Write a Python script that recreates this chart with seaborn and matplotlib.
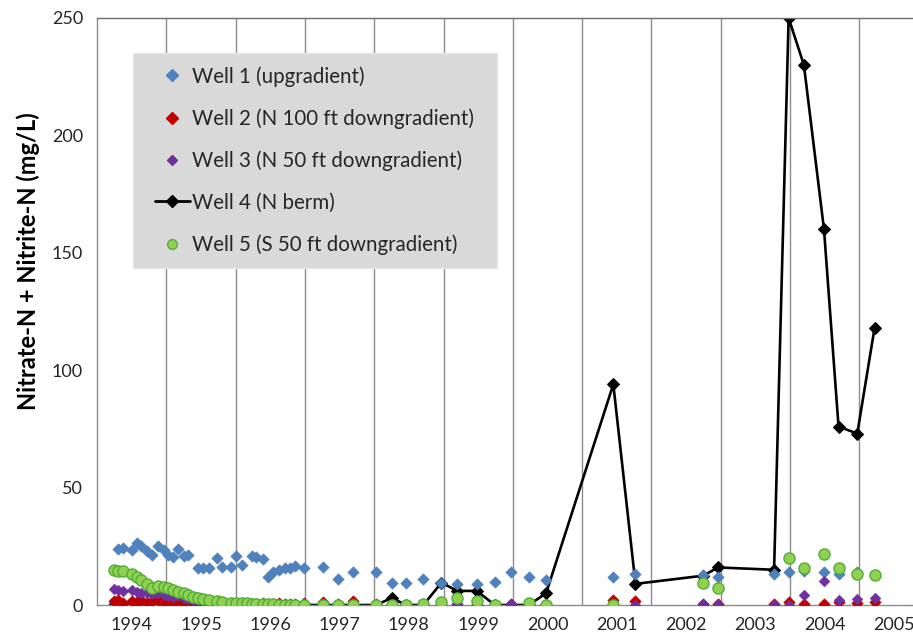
import numpy as np
import matplotlib
matplotlib.use("Agg")
import matplotlib.pyplot as plt
from matplotlib.lines import Line2D
from matplotlib.patches import Rectangle
import seaborn as sns

# Sampling dates (decimal years)
sample_dates = [
    1994.24, 1994.31, 1994.38, 1994.50, 1994.57, 1994.64, 1994.72, 1994.79, 1994.88, 1994.96,
    1995.03, 1995.10, 1995.17, 1995.25, 1995.32, 1995.39, 1995.46, 1995.53, 1995.61, 1995.73,
    1995.80, 1995.94, 1996.01, 1996.09, 1996.16, 1996.23, 1996.30, 1996.39, 1996.47, 1996.54,
    1996.62, 1996.71, 1996.78, 1996.86, 1996.98, 1997.26, 1997.48, 1997.70, 1998.03,
    1998.25, 1998.46, 1998.71, 1998.97, 1999.20, 1999.48, 1999.74, 1999.97, 2000.23, 2000.48,
    2001.45, 2001.77, 2002.75, 2002.96, 2003.77, 2003.98, 2004.20, 2004.49, 2004.70, 2004.97, 2005.22,
]

nan = np.nan

# Nitrate-N + Nitrite-N (mg/L) per well
well1 = [
    nan, 23.9, 24.4, 23.4, 26.5, 25.0, 23.0, 21.5, 25.0, 23.5,
    21.5, 20.6, 24.0, 21.0, 21.5, nan, 15.6, 15.6, 15.8, 19.9,
    16.3, 16.3, 21.0, 17.0, nan, 21.0, 20.6, 19.6, 12.1, 14.2,
    14.9, 15.6, 15.6, 16.7, 15.6, 16.3, 11.1, 13.9, 13.9,
    9.2, 9.2, 11.0, 9.5, 8.8, 9.0, 10.0, 14.0, 12.0, 10.8,
    12.0, 13.1, 12.8, 12.1, 13.0, 13.9, 14.5, 14.2, 13.1, 14.0, nan,
]
well2 = [
    1.5, 2.0, 1.0, 1.8, 1.2, 2.2, 1.0, 1.5, 2.0, 0.8,
    1.5, 1.2, 1.8, 0.8, 1.0, 1.5, 0.6, 1.2, 0.5, 0.8,
    0.5, 0.6, 0.5, 0.8, 0.5, 0.5, 0.6, 1.0, 0.5, 0.5,
    0.8, 0.5, 0.5, 0.5, 1.0, 1.2, 0.5, 1.8, 0.5,
    0.3, 0.2, 0.3, 0.2, 0.3, 0.2, 0.2, 0.3, 0.2, 0.3,
    2.0, 1.5, 0.5, 0.5, 0.3, 1.2, 0.4, 0.3, 1.1, 0.7, 1.2,
]
well3 = [
    7.0, 6.5, 5.8, 6.2, 5.5, 5.0, 5.3, 4.5, 5.0, 4.2,
    4.0, 3.5, 3.8, 3.0, 2.5, 2.2, 1.8, 1.5, 1.2, 1.0,
    0.8, 0.6, 0.5, 0.5, 0.4, 0.4, 0.3, 0.3, 0.3, 0.2,
    0.2, 0.2, 0.2, 0.2, 0.2, 0.2, 0.2, 0.2, 0.2,
    0.2, 0.1, 0.2, 0.1, 0.5, 0.2, 0.1, 0.3, 0.1, 0.1,
    0.1, 0.1, 0.3, 0.5, 0.1, 0.2, 4.3, 10.2, 2.1, 2.5, 2.8,
]
well4 = [
    0.0, 0.0, 0.0, 0.0, 0.0, 0.0, 0.0, 0.0, 0.0, 0.0,
    0.0, 0.0, 0.0, 0.0, 0.0, 0.0, 0.0, 0.0, 0.0, 0.0,
    0.0, 0.0, 0.0, 0.0, 0.0, 0.0, 0.0, 0.0, 0.0, 0.0,
    0.0, 0.0, 0.0, 0.0, 0.0, 0.0, 0.0, 0.0, 0.0,
    3.0, 0.0, 0.0, 9.5, 6.0, 6.0, 0.0, 0.0, 0.0, 5.0,
    94.0, 9.0, 12.5, 16.0, 15.0, 250.0, 230.0, 160.0, 76.0, 73.0, 118.0,
]
well5 = [
    14.8, 14.6, 14.3, 13.2, 12.1, 10.6, 8.9, 7.3, 8.2, 7.8,
    7.1, 6.4, 5.7, 5.0, 4.3, 3.6, 3.0, 2.6, 2.2, 1.6,
    1.3, 1.0, 0.9, 0.8, 0.7, 0.6, 0.5, 0.4, 0.3, 0.3,
    0.2, 0.2, 0.2, 0.1, 0.1, 0.1, 0.1, 0.1, 0.1,
    0.2, 0.2, 0.3, 1.4, 2.8, 1.7, 0.2, nan, 0.7, 0.2,
    0.0, nan, 9.5, 7.1, nan, 19.9, 15.6, 21.7, 15.9, 13.1, 12.8,
]

series_labels = [
    "Well 1 (upgradient)",
    "Well 2 (N 100 ft downgradient)",
    "Well 3 (N 50 ft downgradient)",
    "Well 4 (N berm)",
    "Well 5 (S 50 ft downgradient)",
]
year_labels = ["1994", "1995", "1996", "1997", "1998", "1999",
               "2000", "2001", "2002", "2003", "2004", "2005"]
y_ticks = [0, 50, 100, 150, 200, 250]

BLUE = "#4f81bd"
RED = "#c00000"
PURPLE = "#7030a0"
GREEN = "#92d050"
GREEN_EDGE = "#4fae3c"
GRID = "#8c8c8c"

sns.set_style("white")
plt.rcParams["font.family"] = ["Lato", "DejaVu Sans"]

fig = plt.figure(figsize=(9.13, 6.35), dpi=100)
ax = fig.add_axes([97 / 913, 30 / 635, 815 / 913, 587 / 635])

x = np.array(sample_dates)

# Well 4 line underneath the scatter series
sns.lineplot(x=x, y=well4, color="black", linewidth=1.9, marker="D",
             markersize=5.8, markeredgecolor="black", markerfacecolor="black",
             estimator=None, sort=False, ax=ax, zorder=2)

sns.scatterplot(x=x, y=well1, marker="D", s=34, color=BLUE, edgecolor=BLUE,
                linewidth=0.4, ax=ax, zorder=3)
sns.scatterplot(x=x, y=well2, marker="D", s=34, color=RED, edgecolor=RED,
                linewidth=0.4, ax=ax, zorder=3)
sns.scatterplot(x=x, y=well3, marker="D", s=30, color=PURPLE, edgecolor=PURPLE,
                linewidth=0.4, ax=ax, zorder=3)
sns.scatterplot(x=x, y=well5, marker="o", s=64, color=GREEN, edgecolor=GREEN_EDGE,
                linewidth=1.0, ax=ax, zorder=4)

# Axes limits and ticks
ax.set_xlim(1994.0, 2005.76)
ax.set_ylim(0, 250)
ax.set_xticks(np.arange(1995, 2006))
ax.set_xticklabels([])
ax.set_xticks(np.arange(1994.5, 2006.0, 1.0), minor=True)
ax.set_xticklabels(year_labels, minor=True)
ax.tick_params(axis="x", which="major", length=4, color=GRID, direction="out")
ax.tick_params(axis="x", which="minor", length=0, pad=9, labelsize=13,
               labelcolor="#262626")
ax.set_yticks(y_ticks)
ax.tick_params(axis="y", length=0, pad=10, labelsize=13, labelcolor="#262626")

ax.grid(axis="x", which="major", color=GRID, linewidth=1.0)
ax.grid(axis="y", visible=False)
ax.set_axisbelow(True)

for side in ("left", "bottom", "top"):
    ax.spines[side].set_color(GRID)
    ax.spines[side].set_linewidth(1.0)
ax.spines["top"].set_color("#6e6e6e")
ax.spines["right"].set_visible(False)

ax.set_xlabel("")
ax.set_ylabel("Nitrate-N + Nitrite-N (mg/L)", fontsize=17, fontweight="bold",
              color="black")
ax.yaxis.set_label_coords(-0.07, 0.585)

# Legend on a grey panel
ax.add_patch(Rectangle((36 / 815, (605 - 268) / 587), 364 / 815, 215 / 587,
                       transform=ax.transAxes, facecolor="#d9d9d9",
                       edgecolor="#e6e6e6", linewidth=1.0, zorder=5))
handles = [
    Line2D([], [], linestyle="none", marker="D", markersize=6, color=BLUE),
    Line2D([], [], linestyle="none", marker="D", markersize=6, color=RED),
    Line2D([], [], linestyle="none", marker="D", markersize=5, color=PURPLE),
    Line2D([], [], color="black", linewidth=2, marker="D", markersize=6),
    Line2D([], [], linestyle="none", marker="o", markersize=7, color=GREEN,
           markeredgecolor=GREEN_EDGE, markeredgewidth=1.0),
]
leg = ax.legend(handles, series_labels, loc="upper left",
                bbox_to_anchor=((155 - 97) / 815, (605 - 66) / 587),
                frameon=False, fontsize=14.8, borderpad=0, borderaxespad=0,
                handlelength=1.7, handletextpad=0.1, labelspacing=1.05)
leg.set_zorder(6)

fig.savefig("out.png", dpi=100)
